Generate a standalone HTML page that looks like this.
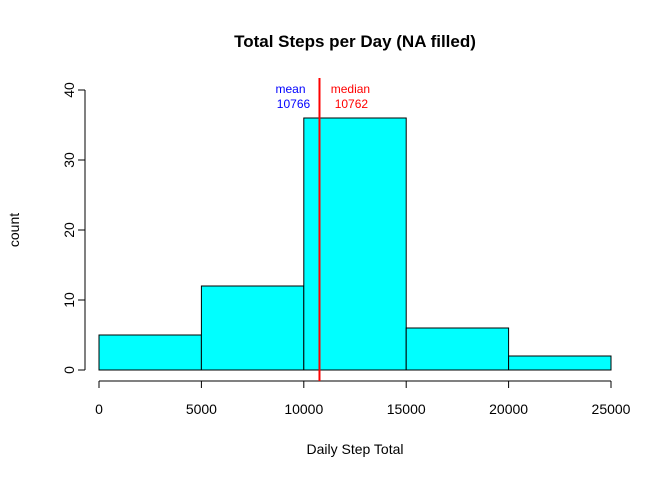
<!DOCTYPE html>
<html><head><meta charset="utf-8"><style>
body{margin:0;background:#fff}
svg{display:block;font-family:"Liberation Sans",Arial,sans-serif}
</style></head><body>
<svg id="c" width="672" height="480">
<text x="355" y="47" text-anchor="middle" font-size="17" font-weight="bold">Total Steps per Day (NA filled)</text>
<text x="355" y="454" text-anchor="middle" font-size="14">Daily Step Total</text>
<text transform="translate(19,230) rotate(-90)" text-anchor="middle" font-size="14">count</text>
<g id="bars"></g><g id="axes"></g><g id="ann"></g>
</svg>
<script>
const binStarts=[0,5000,10000,15000,20000];
const binWidth=5000;
const counts=[5,12,36,6,2];
const xTicks=[0,5000,10000,15000,20000,25000];
const yTicks=[0,10,20,30,40];
const meanVal=10766;
const medianVal=10762;
const NS="http://www.w3.org/2000/svg";
const x=v=>99+v*(512/25000);
const y=v=>370-v*7;
function mk(t,a,p){const e=document.createElementNS(NS,t);for(const k in a)e.setAttribute(k,a[k]);p.appendChild(e);return e;}
const bars=document.getElementById('bars'),axes=document.getElementById('axes'),ann=document.getElementById('ann');
binStarts.forEach((b,i)=>{
 const r=mk('rect',{x:x(b),y:y(counts[i]),width:x(b+binWidth)-x(b),height:y(0)-y(counts[i]),fill:'#00ffff',stroke:'#000','stroke-width':1},bars);
 
 
});
const xl=mk('line',{x1:x(xTicks[0]),x2:x(xTicks[xTicks.length-1]),y1:381,y2:381,stroke:'#000'},axes);


xTicks.forEach(t=>{
 mk('line',{x1:x(t),x2:x(t),y1:381,y2:388,stroke:'#000'},axes);
 const tx=mk('text',{x:x(t),y:414,'text-anchor':'middle','font-size':14},axes);tx.textContent=t;
 
 
});
const yl=mk('line',{x1:85,x2:85,y1:y(yTicks[0]),y2:y(yTicks[yTicks.length-1]),stroke:'#000'},axes);


yTicks.forEach(t=>{
 mk('line',{x1:78,x2:85,y1:y(t),y2:y(t),stroke:'#000'},axes);
 const tx=mk('text',{transform:`translate(74,${y(t)}) rotate(-90)`,'text-anchor':'middle','font-size':14},axes);tx.textContent=t;
 
 
});
const ml=mk('line',{x1:x(meanVal),x2:x(meanVal),y1:78,y2:381,stroke:'#ff0000','stroke-width':2},ann);


function lab(s,xx,yy,c,n){const t=mk('text',{x:xx,y:yy,'text-anchor':'middle','font-size':12,fill:c},ann);t.textContent=s;
 
 }
lab('mean',x(meanVal)-29,93,'#0000ff','mean-label');
lab(String(meanVal),x(meanVal)-26,108,'#0000ff','mean-value');
lab('median',x(medianVal)+31,93,'#ff0000','median-label');
lab(String(medianVal),x(medianVal)+32,108,'#ff0000','median-value');
</script>
</body></html>
